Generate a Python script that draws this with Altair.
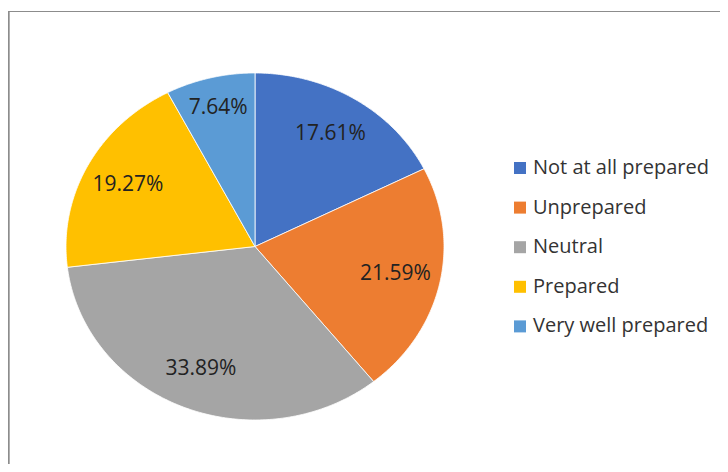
import altair as alt
import pandas as pd

categories = ["Not at all prepared", "Unprepared", "Neutral", "Prepared", "Very well prepared"]
shares = [17.61, 21.59, 33.89, 19.27, 7.64]
labels = ["17.61%", "21.59%", "33.89%", "19.27%", "7.64%"]
colors = ["#4472C4", "#ED7D31", "#A5A5A5", "#FFC000", "#5B9BD5"]

df = pd.DataFrame({"category": categories, "share": shares, "label": labels,
                   "order": list(range(len(categories)))})

W, H = 712, 456
x_scale = alt.Scale(domain=[-1, 1], range=[58, 436])
y_scale = alt.Scale(domain=[1, -1], range=[65, 412])
color_scale = alt.Scale(domain=categories, range=colors)

base = alt.Chart(df).transform_window(
    cum_end="sum(share)", sort=[alt.SortField("order")], frame=[None, 0]
).transform_joinaggregate(
    total="sum(share)"
).transform_calculate(
    a0="(datum.cum_end - datum.share) / datum.total * 2 * PI",
    a1="datum.cum_end / datum.total * 2 * PI",
)

slices = base.transform_calculate(
    idx="sequence(-1, 121)"
).transform_flatten(["idx"]).transform_calculate(
    t="datum.a0 + (datum.a1 - datum.a0) * max(datum.idx, 0) / 120"
).transform_calculate(
    px="datum.idx < 0 ? 0 : sin(datum.t)",
    py="datum.idx < 0 ? 0 : cos(datum.t)",
).mark_line(
    filled=True, interpolate="linear-closed", stroke="white", strokeWidth=1, strokeOpacity=0.8
).encode(
    x=alt.X("px:Q", scale=x_scale, axis=None),
    y=alt.Y("py:Q", scale=y_scale, axis=None),
    color=alt.Color(
        "category:N", scale=color_scale,
        legend=alt.Legend(
            title=None, orient="none", legendX=502, legendY=150,
            symbolType="square", symbolSize=144, symbolStrokeWidth=0,
            labelFont="Open Sans", labelFontSize=20, labelColor="#333333",
            labelOffset=3, labelLimit=0, rowPadding=19.6, padding=0,
        ),
    ),
    detail="category:N",
    order="idx:Q",
)

text = base.transform_calculate(
    m="(datum.a0 + datum.a1) / 2",
    r="datum.share < 10 ? 0.82 : 0.76",
).transform_calculate(
    tx="datum.r * sin(datum.m)",
    ty="datum.r * cos(datum.m)",
).mark_text(
    font="Open Sans", fontSize=21, color="#222222"
).encode(
    x=alt.X("tx:Q", scale=x_scale, axis=None),
    y=alt.Y("ty:Q", scale=y_scale, axis=None),
    text="label:N",
)

frame_left = alt.Chart(df).mark_rule(color="#8c8c8c", strokeWidth=1.2).encode(
    x=alt.value(0.6), y=alt.value(3), y2=alt.value(H)
)
frame_top = alt.Chart(df).mark_rule(color="#8c8c8c", strokeWidth=1.2).encode(
    x=alt.value(0), x2=alt.value(W), y=alt.value(3.5)
)

chart = alt.layer(frame_left, frame_top, slices, text).properties(
    width=W, height=H, padding=0,
    autosize=alt.AutoSizeParams(type="none"),
).configure_view(stroke=None)

chart.save("out.html", embed_options={"renderer": "svg", "actions": False})
